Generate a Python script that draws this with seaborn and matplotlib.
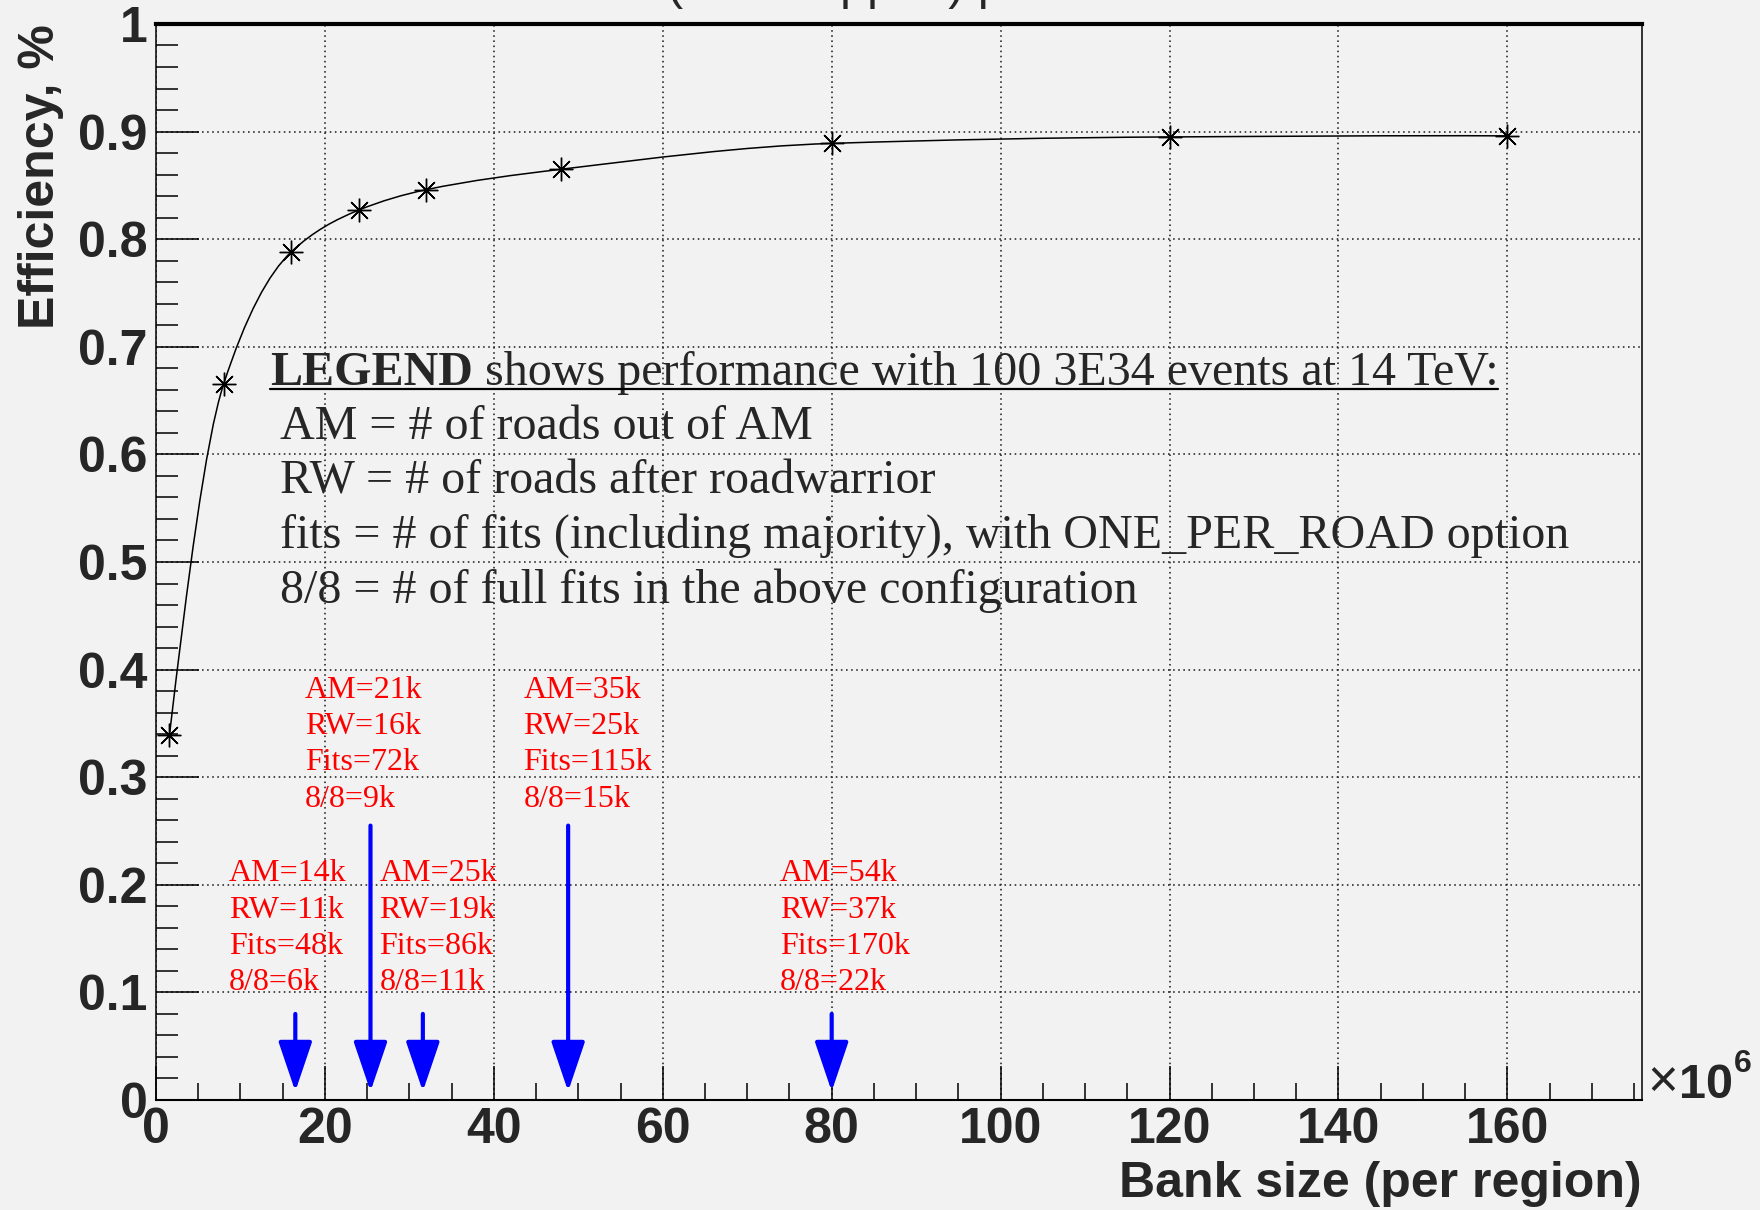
import numpy as np
import pandas as pd
import seaborn as sns
import matplotlib
matplotlib.use("Agg")
import matplotlib.pyplot as plt
from matplotlib.path import Path
from matplotlib.patches import PathPatch
from matplotlib.ticker import MultipleLocator, FixedLocator, FixedFormatter
from matplotlib.lines import Line2D

# ---------------- data ----------------
bank_size = [1.6, 8, 16, 24, 32, 48, 80, 120, 160]          # x 10^6
efficiency = [0.339, 0.665, 0.788, 0.827, 0.846, 0.865, 0.889, 0.895, 0.896]

arrow_x = [16.5, 25.4, 31.6, 48.8, 80]
am_k = [14, 21, 25, 35, 54]
rw_k = [11, 16, 19, 25, 37]
fits_k = [48, 72, 86, 115, 170]
full_k = [6, 9, 11, 15, 22]

x_ticks = [0, 20, 40, 60, 80, 100, 120, 140, 160]
y_ticks = [0, 0.1, 0.2, 0.3, 0.4, 0.5, 0.6, 0.7, 0.8, 0.9, 1.0]
y_tick_labels = ["0", "0.1", "0.2", "0.3", "0.4", "0.5", "0.6", "0.7", "0.8", "0.9", "1"]

legend_head_bold = "LEGEND"
legend_head_rest = " shows performance with 100 3E34 events at 14 TeV:"
legend_body = [
    "AM = # of roads out of AM",
    "RW = # of roads after roadwarrior",
    "fits = # of fits (including majority), with ONE_PER_ROAD option",
    "8/8 = # of full fits in the above configuration",
]
title_text = "(11L Mapped) performance"
x_label = "Bank size (per region)"
y_label = "Efficiency, %"

# ---------------- layout / style ----------------
# label layout: (x_left, y_baseline_of_last_line, arrow_top)
text_pos = [(8.6, 0.1022, 0.080), (17.6, 0.2726, 0.255), (26.45, 0.1022, 0.080),
            (43.5, 0.2726, 0.255), (73.9, 0.1022, 0.080)]

sns.set_theme(style="ticks")
BG = "#f2f2f2"
plt.rcParams["font.family"] = ["Liberation Sans", "DejaVu Sans"]
SERIF = ["Liberation Serif", "DejaVu Serif"]
AXFS = 36

fig = plt.figure(figsize=(17.6, 12.1), dpi=100, facecolor=BG)
ax = fig.add_axes([0.0886, 0.0909, 0.8442, 0.8893], facecolor=BG)

ax.set_xlim(0, 175.9)
ax.set_ylim(0, 1.0)

# grid
ax.set_axisbelow(True)
ax.grid(True, which="major", color="#222222", linestyle=(0, (1.0, 2.2)), linewidth=1.15)

# ticks
ax.xaxis.set_major_locator(FixedLocator(x_ticks))
ax.xaxis.set_minor_locator(MultipleLocator(5))
ax.yaxis.set_major_locator(FixedLocator(y_ticks))
ax.yaxis.set_major_formatter(FixedFormatter(y_tick_labels))
ax.yaxis.set_minor_locator(MultipleLocator(0.02))
ax.tick_params(axis="both", which="both", direction="in", top=False, right=False,
               color="black", width=1.1)
ax.tick_params(axis="y", which="major", length=31, pad=6)
ax.tick_params(axis="y", which="minor", length=16)
ax.tick_params(axis="x", which="major", length=24.5, pad=5)
ax.tick_params(axis="x", which="minor", length=12.2)
for lab in ax.get_xticklabels() + ax.get_yticklabels():
    lab.set_fontsize(AXFS)
    lab.set_fontweight("bold")

for side, lw in {"left": 1.1, "bottom": 1.5, "top": 3.0, "right": 1.1}.items():
    ax.spines[side].set_visible(True)
    ax.spines[side].set_linewidth(lw)
    ax.spines[side].set_color("black")

# smooth curve through the points (monotone cubic rendered as Bezier path)
xs = np.asarray(bank_size, float)
ys = np.asarray(efficiency, float)
h = np.diff(xs)
d = np.diff(ys) / h
m = np.zeros_like(xs)
for i in range(1, len(xs) - 1):
    if d[i - 1] * d[i] > 0:
        w1 = 2 * h[i] + h[i - 1]
        w2 = h[i] + 2 * h[i - 1]
        m[i] = (w1 + w2) / (w1 / d[i - 1] + w2 / d[i])
m[0] = ((2 * h[0] + h[1]) * d[0] - h[0] * d[1]) / (h[0] + h[1])
m[-1] = ((2 * h[-1] + h[-2]) * d[-1] - h[-1] * d[-2]) / (h[-1] + h[-2])
verts = [(xs[0], ys[0])]
codes = [Path.MOVETO]
for i in range(len(xs) - 1):
    verts += [(xs[i] + h[i] / 3, ys[i] + m[i] * h[i] / 3),
              (xs[i + 1] - h[i] / 3, ys[i + 1] - m[i + 1] * h[i] / 3),
              (xs[i + 1], ys[i + 1])]
    codes += [Path.CURVE4] * 3
ax.add_patch(PathPatch(Path(verts, codes), facecolor="none", edgecolor="black",
                       linewidth=1.1, zorder=3))

df = pd.DataFrame({"bank": bank_size, "eff": efficiency})
sns.lineplot(data=df, x="bank", y="eff", ax=ax, estimator=None, sort=False,
             linestyle="none", marker=(8, 2, 0), markersize=17, markeredgewidth=1.0,
             markeredgecolor="black", color="black", zorder=4)

# axis labels
ax.set_xlabel(x_label, fontsize=AXFS, fontweight="bold", loc="right")
ax.xaxis.set_label_coords(1.0, -0.057)
ax.set_ylabel(y_label, fontsize=AXFS, fontweight="bold", loc="top")
ax.yaxis.set_label_coords(-0.062, 1.0)

# x10^6
ax.text(1.004, 0.002, "\u00d7", transform=ax.transAxes, fontsize=38, ha="left",
        va="baseline")
ax.text(1.025, 0.002, "10", transform=ax.transAxes, fontsize=35, fontweight="bold",
        ha="left", va="baseline")
ax.text(1.062, 0.026, "6", transform=ax.transAxes, fontsize=23, fontweight="bold",
        ha="left", va="baseline")

# title (mostly cut off at the top of the picture)
fig.text(667 / 1760, 1.0 + 1.0 / 1210, title_text, fontsize=35, ha="left",
         va="baseline")

# red annotation blocks and blue arrows
for xa, am, rw, ft, fl, (tx, ty, atop) in zip(arrow_x, am_k, rw_k, fits_k, full_k, text_pos):
    block = f"AM={am}k\nRW={rw}k\nFits={ft}k\n8/8={fl}k"
    ax.text(tx, ty, block, color="#ff0000", fontsize=23, family=SERIF, ha="left",
            va="baseline", linespacing=1.33, zorder=5)
    ax.annotate("", xy=(xa, 0.008), xytext=(xa, atop),
                arrowprops=dict(arrowstyle="-|>,head_length=31,head_width=10.5",
                                mutation_scale=1, color="#0000ff", lw=3.0,
                                shrinkA=0, shrinkB=0), zorder=6)

# legend text block
LFS = 34.6
t1 = ax.text(13.5, 0.6645, legend_head_bold, fontsize=LFS, fontweight="bold",
             family=SERIF, ha="left", va="baseline", zorder=5)
t2 = ax.annotate(legend_head_rest, xy=(1, 0), xycoords=t1, fontsize=LFS, family=SERIF,
                 ha="left", va="bottom", zorder=5)
ax.text(14.7, 0.4622, "\n".join(legend_body), fontsize=LFS, family=SERIF,
        ha="left", va="baseline", linespacing=1.29, zorder=5)

fig.canvas.draw()
r = fig.canvas.get_renderer()
b1 = t1.get_window_extent(r)
b2 = t2.get_window_extent(r)
inv = ax.transAxes.inverted()
base_disp = ax.transData.transform((13.5, 0.6645))[1] - 4
p0 = inv.transform((b1.x0, base_disp))
p1 = inv.transform((b2.x1, base_disp))
ax.add_line(Line2D([p0[0], p1[0]], [p0[1], p1[1]], transform=ax.transAxes,
                   color="black", linewidth=1.6, zorder=5))

fig.savefig("out.png", dpi=100, facecolor=BG)
